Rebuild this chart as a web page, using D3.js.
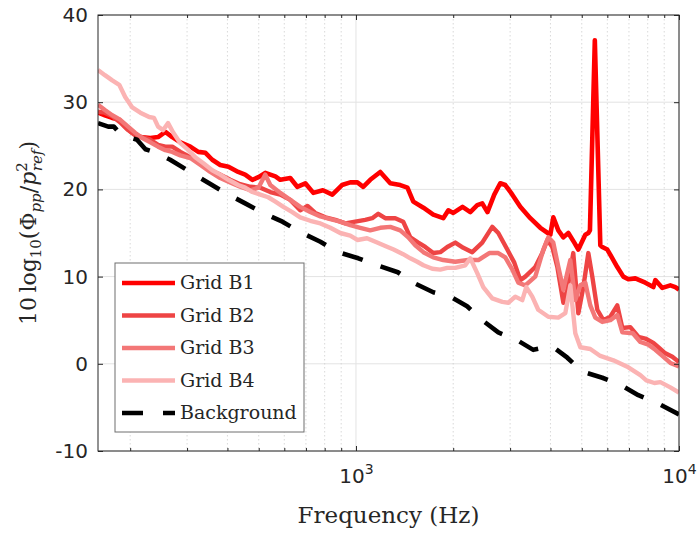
<!DOCTYPE html>
<html lang="en">
<head>
<meta charset="utf-8">
<title>Grid B spectra</title>
<script src="https://cdn.jsdelivr.net/npm/d3@7/dist/d3.min.js"></script>
<style>
  body { margin: 0; background: #fff; }
  .axis text { font-family: "DejaVu Sans", sans-serif; font-size: 20px; fill: #262626; }
  .axis line { stroke: #262626; }
  .axis path { display: none; }
  .serif { font-family: "DejaVu Serif", serif; fill: #262626; }
</style>
</head>
<body>
<svg width="697" height="536"></svg>
<script>
// ---- data (Hz, dB) ----
var seriesNames = ["Grid B1", "Grid B2", "Grid B3", "Grid B4", "Background"];

var b1Freq = [159,167,176,185,193,203,215,231,244,257,270,286,307,325,342,359,380,403,432,454,478,499,524,563,583,626,658,697,738,790,845,905,960,1010,1053,1107,1189,1277,1371,1443,1505,1617,1735,1863,1932,2001,2137,2259,2374,2460,2553,2680,2797,2899,3048,3226,3465,3721,3996,4082,4231,4385,4544,4741,4879,5128,5240,5300,5488,5707,5789,5998,6219,6441,6724,6969,7325,7866,8329,8448,8880,9401,9742,10000];
var b1Level = [28.8,28.5,28.2,28.0,27.2,26.5,26.0,25.9,26.0,26.6,26.0,25.4,24.9,24.3,24.2,23.4,22.8,22.6,22.0,21.7,21.1,21.4,21.9,21.5,21.1,21.3,20.3,20.7,19.6,19.9,19.4,20.5,20.8,20.8,20.3,21.1,22.0,20.7,20.5,20.2,18.6,17.9,17.1,16.7,17.6,17.3,18.0,17.4,18.2,18.4,17.4,19.4,20.7,20.5,19.4,18.0,16.7,15.6,14.8,16.8,15.3,14.5,15.0,13.9,13.1,14.8,15.0,15.3,37.1,13.6,13.4,13.1,12.1,11.1,10.0,9.7,9.8,9.3,8.8,9.6,8.7,9.0,8.8,8.5];

var b2Freq = [159,167,176,186,197,207,218,231,244,257,270,286,307,330,354,380,408,438,471,506,543,583,626,672,708,748,804,863,927,995,1068,1123,1172,1232,1323,1400,1473,1559,1639,1735,1824,1917,2030,2149,2291,2460,2642,2758,2941,3091,3226,3343,3590,3774,3912,4053,4201,4385,4511,4706,4879,5056,5240,5390,5587,5830,6129,6441,6678,7068,7483,7866,8329,8630,9072,9536,10000];
var b2Level = [28.9,28.8,28.4,27.7,26.8,26.2,26.0,25.7,25.1,24.9,24.9,24.3,23.7,23.0,22.2,21.7,21.1,20.6,20.3,20.2,19.7,19.4,18.8,17.6,18.1,17.3,16.8,16.5,16.1,16.3,16.5,16.7,17.2,16.7,16.7,16.3,14.5,13.9,13.4,12.7,12.8,13.4,13.9,13.3,12.8,13.9,15.7,15.0,13.1,11.6,9.6,10.0,11.1,12.7,14.2,13.4,11.1,7.0,8.5,12.7,5.8,8.8,12.7,10.0,6.2,5.0,5.4,6.7,4.1,4.2,3.1,2.9,2.4,1.9,1.2,0.8,0.2];

var b3Freq = [159,167,176,186,197,207,218,231,244,257,270,286,307,330,354,380,408,438,471,499,524,543,583,626,672,722,776,833,894,960,1031,1107,1189,1277,1371,1452,1526,1617,1735,1863,2030,2222,2392,2586,2758,2899,3048,3181,3343,3590,3802,3940,4082,4231,4385,4608,4775,4949,5128,5314,5507,5789,6129,6441,6678,7196,7591,8036,8448,8880,9401,10000];
var b3Level = [29.7,29.1,28.5,28.0,27.2,26.5,25.9,25.4,24.9,24.5,24.3,23.9,23.6,22.8,22.0,21.3,20.8,20.3,19.9,20.2,21.7,20.5,19.6,18.8,18.0,17.4,16.9,16.6,16.3,15.9,15.6,15.3,15.6,15.7,15.3,14.5,13.6,12.8,12.2,11.9,11.7,11.9,11.9,12.7,12.7,12.2,10.8,9.3,9.0,10.0,13.1,14.5,13.9,11.1,8.5,11.9,7.3,9.0,9.3,6.7,5.3,4.8,5.0,5.6,3.6,3.5,2.5,2.2,1.6,0.9,0.1,-0.3];

var b4Freq = [159,167,176,185,193,203,215,229,237,244,253,262,272,286,303,318,337,359,380,403,432,454,478,506,535,563,596,635,672,722,776,833,894,960,1010,1082,1163,1232,1308,1395,1473,1548,1617,1723,1824,1917,2030,2180,2259,2374,2478,2642,2838,2962,3113,3272,3367,3514,3666,3940,4231,4447,4608,4775,4949,5314,5707,6263,6969,7591,7922,8389,8754,9401,10000];
var b4Level = [33.7,33.1,32.5,32.0,30.6,29.4,28.8,28.3,28.2,27.2,26.8,27.6,26.5,25.3,24.5,23.7,23.0,22.2,21.7,21.1,20.5,20.2,19.7,19.4,19.1,18.6,18.0,17.4,16.8,16.4,16.1,15.6,15.0,14.7,14.2,14.4,13.9,13.5,13.1,12.6,12.1,11.7,11.3,10.9,10.8,11.0,11.0,11.3,12.1,10.4,8.8,7.5,7.1,7.0,7.7,7.3,8.8,7.7,6.2,5.4,5.3,5.8,9.0,3.5,1.9,1.7,0.9,0.4,-0.4,-1.3,-1.9,-2.2,-2.1,-2.7,-3.3];

var bgFreq = [159,171,178,183,193,210,223,237,266,307,351,394,454,510,592,672,776,881,1017,1163,1348,1505,1735,1863,1959,2208,2460,2758,3158,3539,3856,4082,4511,5020,5789,6582,7483,8568,10000];
var bgLevel = [27.6,27.2,27.2,26.7,26.1,25.7,24.6,24.3,23.4,22.0,20.7,19.6,18.4,17.4,16.3,15.1,14.0,12.8,12.1,11.3,10.5,9.3,8.2,7.9,7.7,6.6,5.0,3.6,2.7,1.6,1.9,1.9,0.7,-0.9,-1.6,-2.4,-3.6,-4.5,-5.8];

var yTicks = [-10, 0, 10, 20, 30, 40];
var xMajor = [1000, 10000];
var xMinor = [200,300,400,500,600,700,800,900,2000,3000,4000,5000,6000,7000,8000,9000];

// ---- styles ----
var colors = ["#ff0000", "#ee4444", "#f37777", "#fbb3b3", "#000000"];
var widths = [4.6, 4.4, 4.4, 4.4, 4.6];

var svg = d3.select("svg");
// (window.top is read-only, so no bare "top" here)
var plotL = 98, plotR = 679, plotT = 15, plotB = 451;

var x = d3.scaleLog().domain([159, 10000]).range([plotL, plotR]);
var y = d3.scaleLinear().domain([-10, 40]).range([plotB, plotT]);

// grid
var grid = svg.append("g");
grid.selectAll(".gy").data(yTicks).enter().append("line")
  .attr("x1", plotL).attr("x2", plotR)
  .attr("y1", function(d) { return y(d); }).attr("y2", function(d) { return y(d); })
  .attr("stroke", "#e3e3e3").attr("stroke-width", 1);
grid.selectAll(".gxm").data(xMinor).enter().append("line")
  .attr("x1", function(d) { return x(d); }).attr("x2", function(d) { return x(d); })
  .attr("y1", plotT).attr("y2", plotB)
  .attr("stroke", "#cfcfcf").attr("stroke-width", 0.8).attr("stroke-dasharray", "1.5,2.5");
grid.selectAll(".gx").data(xMajor).enter().append("line")
  .attr("x1", function(d) { return x(d); }).attr("x2", function(d) { return x(d); })
  .attr("y1", plotT).attr("y2", plotB)
  .attr("stroke", "#e3e3e3").attr("stroke-width", 1);

// lines
svg.append("clipPath").attr("id", "plotclip").append("rect")
  .attr("x", plotL).attr("y", plotT).attr("width", plotR - plotL).attr("height", plotB - plotT);

var series = [
  d3.zip(b1Freq, b1Level),
  d3.zip(b2Freq, b2Level),
  d3.zip(b3Freq, b3Level),
  d3.zip(b4Freq, b4Level),
  d3.zip(bgFreq, bgLevel)
];

var line = d3.line()
  .x(function(d) { return x(d[0]); })
  .y(function(d) { return y(d[1]); });

svg.append("g").attr("clip-path", "url(#plotclip)")
  .selectAll("path").data(series).enter().append("path")
  .attr("d", line)
  .attr("fill", "none")
  .attr("stroke", function(d, i) { return colors[i]; })
  .attr("stroke-width", function(d, i) { return widths[i]; })
  .attr("stroke-linejoin", "round")
  .attr("stroke-dasharray", function(d, i) { return i == 4 ? "21,19" : null; });

// axes (ticks pointing inward, like matlab)
svg.append("g").attr("class", "axis").attr("transform", "translate(" + plotL + ",0)")
  .call(d3.axisLeft(y).tickValues(yTicks).tickSize(-5).tickPadding(10)
    .tickFormat(function(d) { return String(d); }));   // plain hyphen, as in the figure
svg.append("g").attr("class", "axis").attr("transform", "translate(" + plotR + ",0)")
  .call(d3.axisRight(y).tickValues(yTicks).tickSize(-5).tickFormat(""));

var gx = svg.append("g").attr("class", "axis").attr("transform", "translate(0," + plotB + ")")
  .call(d3.axisBottom(x).tickValues(xMajor).tickSize(-5).tickPadding(18));
gx.selectAll(".tick text").text(null).each(function(d) {
  var t = d3.select(this);
  t.append("tspan").text("10");
  t.append("tspan").attr("dy", -9).attr("font-size", 14).text(Math.round(Math.log10(d)));
});
svg.append("g").attr("class", "axis").attr("transform", "translate(0," + plotB + ")")
  .call(d3.axisBottom(x).tickValues(xMinor).tickSize(-3).tickFormat(""));
svg.append("g").attr("class", "axis").attr("transform", "translate(0," + plotT + ")")
  .call(d3.axisTop(x).tickValues(xMajor).tickSize(-5).tickFormat(""));
svg.append("g").attr("class", "axis").attr("transform", "translate(0," + plotT + ")")
  .call(d3.axisTop(x).tickValues(xMinor).tickSize(-3).tickFormat(""));

svg.append("rect")
  .attr("x", plotL).attr("y", plotT).attr("width", plotR - plotL).attr("height", plotB - plotT)
  .attr("fill", "none").attr("stroke", "#262626").attr("stroke-width", 1);

// axis labels
svg.append("text").attr("class", "serif")
  .attr("x", (plotL + plotR) / 2).attr("y", 523)
  .attr("text-anchor", "middle").attr("font-size", 23)
  .text("Frequency (Hz)");

var yl = svg.append("text").attr("class", "serif")
  .attr("transform", "translate(36," + ((plotT + plotB) / 2) + ") rotate(-90)")
  .attr("text-anchor", "middle").attr("font-size", 22);
yl.append("tspan").text("10\u2009log");
yl.append("tspan").attr("font-size", 15).attr("dy", 5).text("10");
yl.append("tspan").attr("dy", -5).text("(\u03A6");
yl.append("tspan").attr("font-size", 15).attr("dy", 5).attr("font-style", "italic").text("pp");
yl.append("tspan").attr("dy", -5).text("/");
yl.append("tspan").attr("font-style", "italic").text("p");
yl.append("tspan").attr("font-size", 15).attr("dy", -9).text("2");
yl.append("tspan").attr("font-size", 15).attr("dy", 15).attr("dx", -9).attr("font-style", "italic").text("ref");
yl.append("tspan").attr("dy", -6).text(")");

// legend
var lg = svg.append("g");
lg.append("rect").attr("x", 115).attr("y", 263).attr("width", 189).attr("height", 169)
  .attr("fill", "#fff").attr("stroke", "#6e6e6e").attr("stroke-width", 1);
var items = lg.selectAll(".item").data(seriesNames).enter().append("g")
  .attr("transform", function(d, i) { return "translate(0," + (283 + i * 32.5) + ")"; });
items.append("line")
  .attr("x1", 122).attr("x2", 175).attr("y1", 0).attr("y2", 0)
  .attr("stroke", function(d, i) { return colors[i]; })
  .attr("stroke-width", function(d, i) { return widths[i]; })
  .attr("stroke-dasharray", function(d, i) { return i == 4 ? "21,20" : null; });
items.append("text").attr("class", "serif")
  .attr("x", 180).attr("y", 6).attr("font-size", 19)
  .text(function(d) { return d; });
</script>
</body>
</html>
